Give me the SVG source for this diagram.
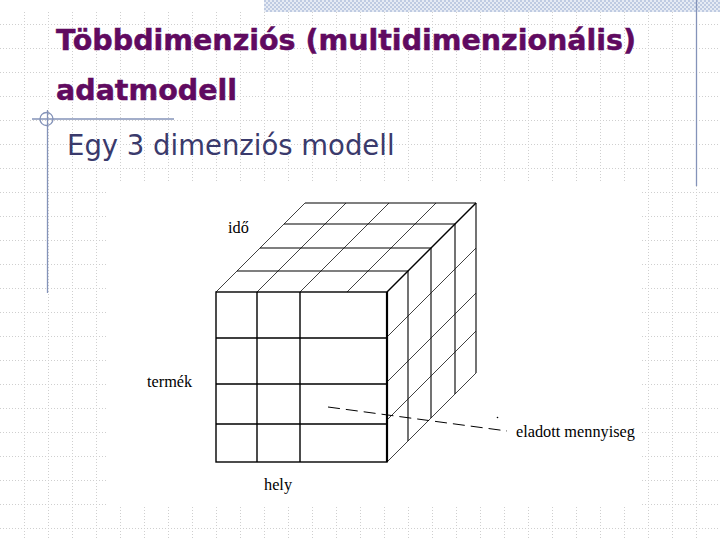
<svg xmlns="http://www.w3.org/2000/svg" width="720" height="540" viewBox="0 0 720 540">
<defs>
<pattern id="hatch" width="4" height="4" patternUnits="userSpaceOnUse">
<rect width="4" height="4" fill="#e6ebf4"/>
<rect x="0" y="0" width="2" height="2" fill="#bfcbe2"/>
<rect x="2" y="2" width="2" height="2" fill="#bfcbe2"/>
</pattern>
<style>
.grid{stroke:#cfcfcf;stroke-width:1;stroke-dasharray:1 2;fill:none}
.deco{stroke:#8493b9;stroke-width:1.3;fill:none}
.face{stroke:#000;stroke-width:1.4;fill:none}
.thin{stroke:#111;stroke-width:0.8;fill:none}
.vert{stroke:#000;stroke-width:1.1;fill:none}
.lbl{font-family:"Liberation Serif","Times New Roman",serif;font-size:16.3px;fill:#000}
.title{font-family:"DejaVu Sans",Verdana,sans-serif;font-weight:bold;font-size:28.5px;fill:#600a60;stroke:#600a60;stroke-width:0.5}
.sub{font-family:"DejaVu Sans",Tahoma,sans-serif;font-size:27.5px;fill:#3a3a6c}
</style>
</defs>
<rect width="720" height="540" fill="#fff"/>
<g id="background-grid">
<path class="grid" d="M24.5 12V540M48.5 12V540M72.5 12V540M96.5 12V540M120.5 12V540M144.5 12V540M168.5 12V540M192.5 12V540M216.5 12V540M240.5 12V540M264.5 12V540M288.5 12V540M312.5 12V540M336.5 12V540M360.5 12V540M384.5 12V540M408.5 12V540M432.5 12V540M456.5 12V540M480.5 12V540M504.5 12V540M528.5 12V540M552.5 12V540M576.5 12V540M600.5 12V540M624.5 12V540M648.5 12V540M672.5 12V540M696.5 12V540"/>
<path class="grid" d="M0 24.5H720M0 48.5H720M0 72.5H720M0 96.5H720M0 120.5H720M0 144.5H720M0 168.5H720M0 192.5H720M0 216.5H720M0 240.5H720M0 264.5H720M0 288.5H720M0 312.5H720M0 336.5H720M0 360.5H720M0 384.5H720M0 408.5H720M0 432.5H720M0 456.5H720M0 480.5H720M0 504.5H720M0 528.5H720"/>
</g>
<rect id="hatched-band" x="264" y="0" width="456" height="12" fill="url(#hatch)"/>
<g id="decoration">
<line class="deco" x1="32" y1="119" x2="174" y2="119"/>
<line class="deco" x1="47.5" y1="110" x2="47.5" y2="293"/>
<circle class="deco" cx="46.5" cy="119" r="6.5"/>
<line class="deco" x1="696.5" y1="0" x2="696.5" y2="186"/>
</g>
<g id="titles">
<text class="title" x="56" y="50">Többdimenziós (multidimenzionális)</text>
<text class="title" x="56" y="100">adatmodell</text>
<text class="sub" x="67" y="155">Egy 3 dimenziós modell</text>
</g>
<rect id="image-area" x="107" y="181" width="534" height="324" fill="#fff"/>
<g id="cube">
<g id="top-face">
<path class="thin" d="M216 292L305 203M257 292L346 203M300 292L389 203M347 292L436 203"/>
<path class="vert" d="M237 271H408M260 248H431M284 224H455M305 203H476"/>
<path stroke="#000" stroke-width="1.4" fill="none" d="M387 292L476 203"/>
</g>
<g id="right-face">
<path class="vert" d="M408 271V441M431 248V418M455 224V394M476 203V373"/>
<path class="thin" d="M387 337L476 248M387 382L476 293M387 420L476 331M387 462L476 373"/>
</g>
<g id="front-face">
<rect class="face" x="216" y="292" width="171" height="170"/>
<path class="face" d="M257 292V462M300 292V462M216 338H387M216 384H387M216 424H387"/>
<line stroke="#000" stroke-width="2.2" x1="387" y1="292" x2="387" y2="462"/>
</g>
</g>
<g id="connectors">
<line id="leader" x1="328" y1="407" x2="507" y2="431" stroke="#000" stroke-width="1" stroke-dasharray="12 6"/>
<circle cx="497.5" cy="417.5" r="0.8" fill="#000"/>
</g>
<g id="labels">
<text id="label-ido" class="lbl" x="228" y="233">idő</text>
<text id="label-termek" class="lbl" x="147" y="387">termék</text>
<text id="label-hely" class="lbl" x="264" y="490">hely</text>
<text id="label-eladott" class="lbl" x="516" y="437">eladott mennyiseg</text>
</g>
</svg>
